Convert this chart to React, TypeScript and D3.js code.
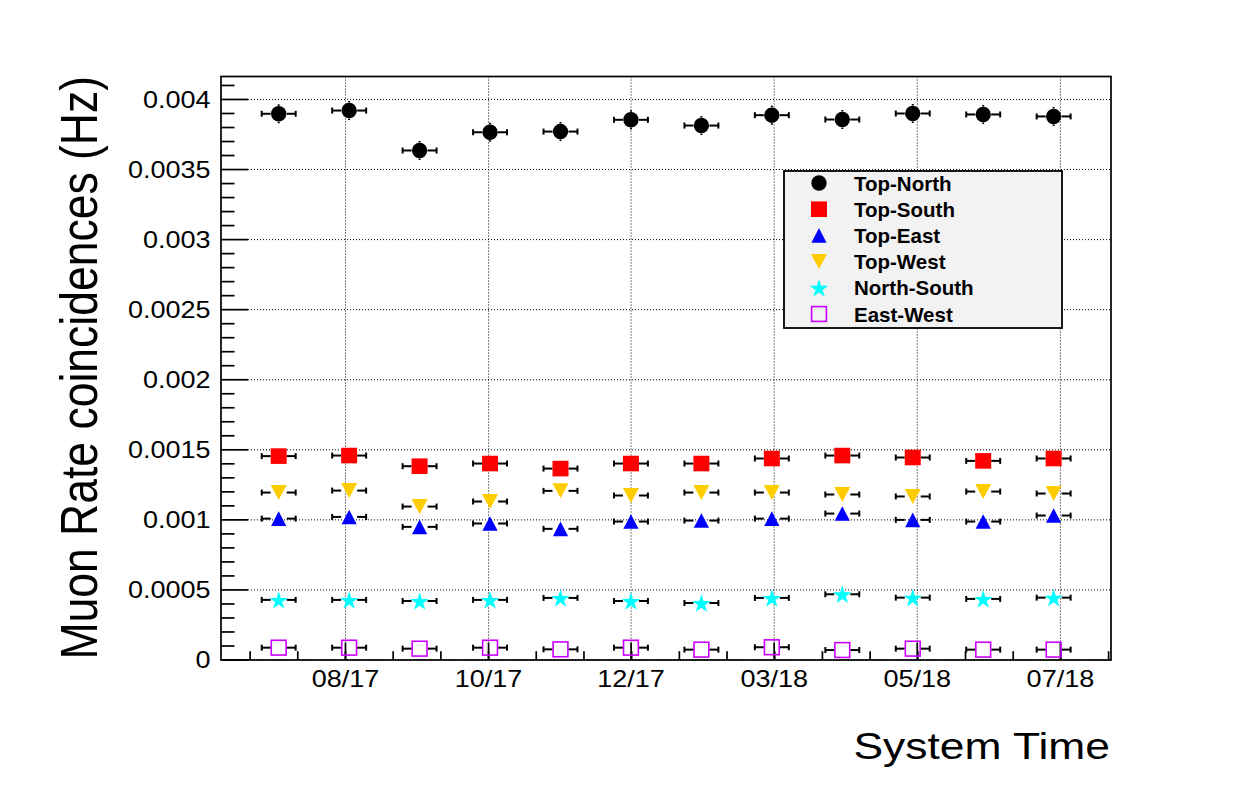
import React from "react";
import * as d3 from "d3";

const W = 1235;
const H = 787;

// ---- data ----
const timeIndex = [0, 1, 2, 3, 4, 5, 6, 7, 8, 9, 10, 11];
const topNorth = [0.003898, 0.003921, 0.003636, 0.003766, 0.003771, 0.003855, 0.003814, 0.003888, 0.003857, 0.0039, 0.003893, 0.003879];
const topSouth = [0.001455, 0.001459, 0.001383, 0.001402, 0.001366, 0.001402, 0.001402, 0.001438, 0.001459, 0.001445, 0.001421, 0.001438];
const topEast = [0.001009, 0.001021, 0.00095, 0.000974, 0.000936, 0.000988, 0.000995, 0.001009, 0.001045, 0.001, 0.000988, 0.001031];
const topWest = [0.001195, 0.001209, 0.001095, 0.001131, 0.001207, 0.001174, 0.001195, 0.001195, 0.001181, 0.001167, 0.001202, 0.001188];
const northSouth = [0.000429, 0.000429, 0.000421, 0.000429, 0.000443, 0.000421, 0.000407, 0.000443, 0.000469, 0.000445, 0.000436, 0.000445];
const eastWest = [0.000088, 0.000088, 0.000081, 0.000088, 0.000076, 0.000088, 0.000074, 0.000091, 0.000071, 0.000081, 0.000074, 0.000074];
const seriesNames = ["Top-North", "Top-South", "Top-East", "Top-West", "North-South", "East-West"];
const seriesColors = ["#000000", "#ff0000", "#0000ff", "#ffcc00", "#00ffff", "#cc00ff"];
const seriesMarkers = ["circle", "square", "triangleUp", "triangleDown", "star", "openSquare"];
const seriesYErr = [0.000068, 0.00003, 0.00003, 0.00003, 0.00002, 0.00001];
const xErr = 0.241;

const xTickValues = [0.948, 2.979, 5.002, 7.033, 9.064, 11.096];
const xTickLabels = ["08/17", "10/17", "12/17", "03/18", "05/18", "07/18"];
const yTickValues = [0, 0.0005, 0.001, 0.0015, 0.002, 0.0025, 0.003, 0.0035, 0.004];
const yTickLabels = ["0", "0.0005", "0.001", "0.0015", "0.002", "0.0025", "0.003", "0.0035", "0.004"];

const allSeries = [topNorth, topSouth, topEast, topWest, northSouth, eastWest];

// ---- layout ----
const L = 221, R = 1111, T = 76.5, B = 660;
const FONT = "'Liberation Sans', Arial, Helvetica, sans-serif";

const x = d3.scaleLinear().domain([-0.819, 11.814]).range([L, R]);
const y = d3.scaleLinear().domain([0, 0.004164]).range([B, T]);

function Marker({ kind, color, cx, cy }: { kind: string; color: string; cx: number; cy: number }) {
  switch (kind) {
    case "circle":
      return <circle cx={cx} cy={cy} r={7.7} fill={color} />;
    case "square":
      return <rect x={cx - 8} y={cy - 7.8} width={16} height={15.6} fill={color} />;
    case "triangleUp":
      return <path d={`M${cx - 7.6},${cy + 7.3}L${cx + 7.6},${cy + 7.3}L${cx},${cy - 7.3}Z`} fill={color} />;
    case "triangleDown":
      return <path d={`M${cx - 8},${cy - 7.5}L${cx + 8},${cy - 7.5}L${cx},${cy + 7.5}Z`} fill={color} />;
    case "star": {
      const p = d3.symbol().type(d3.symbolStar).size(105)();
      return <path d={p || ""} transform={`translate(${cx},${cy + 1})`} fill={color} />;
    }
    case "openSquare":
      return <rect x={cx - 7.4} y={cy - 7.4} width={14.8} height={14.8} fill="none" stroke={color} strokeWidth={1.6} />;
  }
  return null;
}

export default function App() {
  // minor ticks
  const xStep = (xTickValues[1] - xTickValues[0]) / 3;
  const xMinor: number[] = [];
  for (let v = xTickValues[0]; v > x.domain()[0]; v -= xStep) xMinor.push(v);
  for (let v = xTickValues[0] + xStep; v < x.domain()[1]; v += xStep) xMinor.push(v);
  const yMinor = d3.range(0, 0.00416, 0.0001);

  const gap = 8;
  const half = Math.abs(x(xErr) - x(0));

  return (
    <svg width={W} height={H} style={{ position: "absolute", left: 0, top: 0, background: "#fff" }} xmlns="http://www.w3.org/2000/svg">
      <rect x={0} y={0} width={W} height={H} fill="#fff" />
      {/* grid */}
      <g stroke="#000" strokeWidth={1} strokeDasharray="1,2">
        {xTickValues.map((v, i) => (
          <line key={"gx" + i} x1={x(v)} x2={x(v)} y1={T} y2={B} />
        ))}
        {yTickValues.map((v, i) => (
          <line key={"gy" + i} x1={L} x2={R} y1={y(v)} y2={y(v)} />
        ))}
      </g>
      {/* ticks */}
      <g stroke="#000" strokeWidth={1.7}>
        {yMinor.map((v, i) => {
          const major = Math.abs(Math.round(v / 0.0005) * 0.0005 - v) < 1e-9;
          return <line key={"ty" + i} x1={L} x2={L + (major ? 27 : 13.5)} y1={y(v)} y2={y(v)} />;
        })}
        {xTickValues.map((v, i) => (
          <line key={"tx" + i} x1={x(v)} x2={x(v)} y1={B} y2={B - 17.5} />
        ))}
        {xMinor.map((v, i) => (
          <line key={"txm" + i} x1={x(v)} x2={x(v)} y1={B} y2={B - 8.8} />
        ))}
      </g>
      {/* frame */}
      <rect x={L} y={T} width={R - L} height={B - T} fill="none" stroke="#000" strokeWidth={1.7} />
      {/* tick labels */}
      <g fontFamily={FONT} fontSize={23.5} fill="#000">
        {yTickValues.map((v, i) => (
          <text key={"ly" + i} transform={`translate(210.5,${y(v) + 8.4}) scale(1.15,1)`} textAnchor="end">
            {yTickLabels[i]}
          </text>
        ))}
        {xTickValues.map((v, i) => (
          <text key={"lx" + i} transform={`translate(${x(v)},687) scale(1.15,1)`} textAnchor="middle">
            {xTickLabels[i]}
          </text>
        ))}
      </g>
      {/* axis titles */}
      <text transform={`translate(1110,759) scale(1.2,1)`} textAnchor="end" fontFamily={FONT} fontSize={37} fill="#000">
        System Time
      </text>
      <text transform={`translate(96.5,76) scale(1.17,1) rotate(-90)`} textAnchor="end" fontFamily={FONT} fontSize={44.5} fill="#000">
        Muon Rate coincidences (Hz)
      </text>
      {/* data */}
      {allSeries.map((vals, s) => (
        <g key={"s" + s}>
          <g stroke="#000" strokeWidth={2} fill="none">
            {vals.map((v, i) => {
              const cx = x(timeIndex[i]);
              const cy = y(v);
              const yTop = y(v + seriesYErr[s]);
              const yBot = y(v - seriesYErr[s]);
              return (
                <g key={i}>
                  <line x1={cx - half} x2={cx - gap} y1={cy} y2={cy} />
                  <line x1={cx + gap} x2={cx + half} y1={cy} y2={cy} />
                  <line x1={cx - half} x2={cx - half} y1={cy - 3} y2={cy + 3} />
                  <line x1={cx + half} x2={cx + half} y1={cy - 3} y2={cy + 3} />
                  {cy - yTop > gap && <line x1={cx} x2={cx} y1={yTop} y2={cy - gap} />}
                  {yBot - cy > gap && <line x1={cx} x2={cx} y1={cy + gap} y2={yBot} />}
                </g>
              );
            })}
          </g>
          {vals.map((v, i) => (
            <Marker key={"m" + i} kind={seriesMarkers[s]} color={seriesColors[s]} cx={x(timeIndex[i])} cy={y(v)} />
          ))}
        </g>
      ))}
      {/* legend */}
      <g>
        <rect x={784} y={171} width={278} height={157} fill="#f2f2f2" stroke="#000" strokeWidth={1.8} />
        {seriesNames.map((name, i) => {
          const ry = 183 + i * 26.2;
          return (
            <g key={"lg" + i}>
              <Marker kind={seriesMarkers[i]} color={seriesColors[i]} cx={819} cy={ry} />
              <text x={854} y={ry + 7.5} fontFamily={FONT} fontWeight="bold" fontSize={20.5} fill="#000">
                {name}
              </text>
            </g>
          );
        })}
      </g>
    </svg>
  );
}
